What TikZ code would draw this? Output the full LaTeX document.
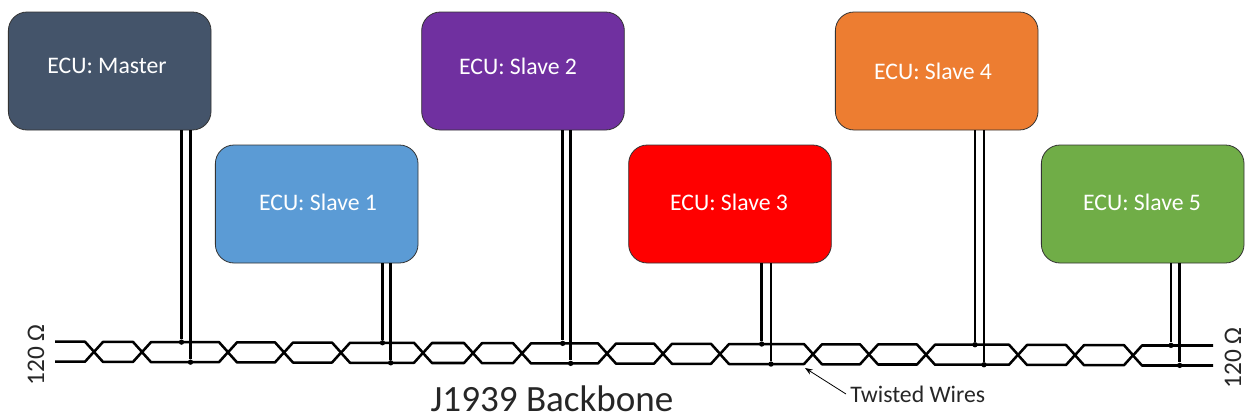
\documentclass[tikz,border=0pt]{standalone}
\usepackage{fontspec}
\setmainfont{Carlito}
\usepackage{tikz}
\usetikzlibrary{arrows.meta}
\definecolor{ecu_slate}{HTML}{44546A}
\definecolor{ecu_blue}{HTML}{5B9BD5}
\definecolor{ecu_purple}{HTML}{7030A0}
\definecolor{ecu_orange}{HTML}{ED7D31}
\definecolor{ecu_green}{HTML}{70AD47}

\begin{document}
\begin{tikzpicture}[x=0.75pt, y=-0.75pt, >=Stealth,
      declare function={toprail(\p)=341.7+0.0033*(\p-55);},
      ecu/.style={draw=black!80, line width=0.6pt, rounded corners=14pt, inner sep=0pt,
        minimum width=152pt, minimum height=88.5pt},
      lbl/.style={font=\fontsize{17.8}{21}\selectfont, text=white, inner sep=0pt},
      wire/.style={line width=1.9pt, line join=round},
      stub/.style={line width=2pt},
      tap/.style={circle, fill=black, inner sep=0pt, minimum size=4pt},
      note/.style={text=black!85, inner sep=0pt}]
    \useasboundingbox (0,0) rectangle (1245,418);
    \node[ecu, fill=ecu_slate]  (master) at (109.7,71)  {};
    \node[ecu, fill=ecu_blue]   (slavea) at (316.7,204) {};
    \node[ecu, fill=ecu_purple] (slaveb) at (523,71)    {};
    \node[ecu, fill=red]        (slavec) at (730,204)   {};
    \node[ecu, fill=ecu_orange] (slaved) at (936.7,71)  {};
    \node[ecu, fill=ecu_green]  (slavee) at (1142.7,204) {};
    \node[lbl] (masterlbl) at (107,66)  {ECU: Master};
    \node[lbl] (slavealbl) at (318,202.5) {ECU: Slave 1};
    \node[lbl] (slaveblbl) at (518,66)  {ECU: Slave 2};
    \node[lbl] (slaveclbl) at (729,202.5) {ECU: Slave 3};
    \node[lbl] (slavedlbl) at (933,71)  {ECU: Slave 4};
    \node[lbl] (slaveelbl) at (1142,202.5) {ECU: Slave 5};
    % the twisted pair, one stretch per pair of crossings
    \foreach \a/\b in {94/142, 142/228, 228/284, 284/341, 341/423, 423/473, 473/522, 522/607,
        607/663, 663/720, 720/813, 813/869, 869/926, 926/1018, 1018/1075, 1075/1133} {
      \pgfmathsetmacro\lvl{toprail((\a+\b)/2)}
      \draw[wire] (\a,\lvl+10) -- ({\a+9},\lvl) -- ({\b-9},\lvl) -- (\b,\lvl+10);
      \draw[wire] (\a,\lvl+10) -- ({\a+9},\lvl+20) -- ({\b-9},\lvl+20) -- (\b,\lvl+10);
    }
    \coordinate (lefttop) at (55,341.7);
    \coordinate (leftbot) at (55,361.7);
    \coordinate (righttop) at (1213,345.5);
    \coordinate (rightbot) at (1213,365.5);
    \draw[wire] (lefttop) -- (85,341.7) -- (94,351.7);
    \draw[wire] (leftbot) -- (85,361.7) -- (94,351.7);
    \draw[wire] (righttop) -- (1142,345.5) -- (1133,355.5);
    \draw[wire] (rightbot) -- (1142,365.5) -- (1133,355.5);
    % each ECU taps both wires
    \foreach \n/\xa/\xb in {master/181.5/190.5, slavea/382.5/390.7, slaveb/562.7/570.7,
        slavec/761.7/771, slaved/975/984, slavee/1171/1179.7} {
      \node[tap] (\n hi) at (\xa,{toprail(\xa)}) {};
      \node[tap] (\n lo) at (\xb,{toprail(\xb)+20}) {};
      \draw[stub] (\n.south -| \n hi) -- (\n hi);
      \draw[stub] (\n.south -| \n lo) -- (\n lo);
    }
    \node[note, rotate=90] (termleft) at (36,355) {\fontsize{19}{22}\selectfont 120 Ω};
    \node[note, rotate=90] (termright) at (1233,358) {\fontsize{19}{22}\selectfont 120 Ω};
    \node[note, anchor=west] (twisted) at (850,394) {\fontsize{17.8}{21}\selectfont Twisted Wires};
    \node[note, anchor=base] (backbone) at (552,411.5) {\fontsize{27.8}{32}\selectfont J1939 Backbone};
    \coordinate (twisttip) at (805,368);
    \draw[->, line width=0.6pt] (twisted.west) ++(-4,0) coordinate (twisttail) -- (twisttip);
  \end{tikzpicture}
\end{document}
